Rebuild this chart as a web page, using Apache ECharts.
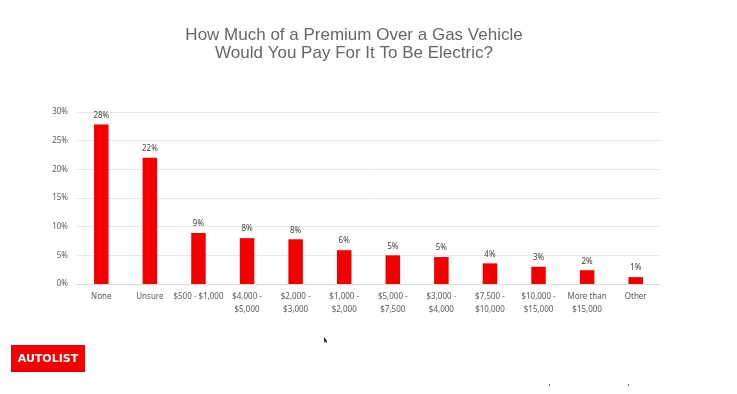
<!DOCTYPE html>
<html><head><meta charset="utf-8">
<script src="https://cdn.jsdelivr.net/npm/echarts@6/dist/echarts.min.js"></script>
<style>html,body{margin:0;padding:0;background:#fff}#c{width:737px;height:394px}</style>
</head><body><div id="c"></div>
<script>
const categories = ['None','Unsure','$500 - $1,000','$4,000 -\n$5,000','$2,000 -\n$3,000','$1,000 -\n$2,000','$5,000 -\n$7,500','$3,000 -\n$4,000','$7,500 -\n$10,000','$10,000 -\n$15,000','More than\n$15,000','Other'];
const values = [27.8, 22.0, 8.9, 8.0, 7.8, 5.9, 5.0, 4.7, 3.6, 3.0, 2.4, 1.2];
const valueLabels = ['28%','22%','9%','8%','8%','6%','5%','5%','4%','3%','2%','1%'];
const yTicks = [0, 5, 10, 15, 20, 25, 30];

const chart = echarts.init(document.getElementById('c'), null, {renderer:'canvas'});
chart.setOption({
  animation: false,
  backgroundColor: '#fff',
  title: {
    text: 'How Much of a Premium Over a Gas Vehicle\nWould You Pay For It To Be Electric?',
    left: 349, top: 21, textAlign: 'center',
    textStyle: {fontFamily: 'Liberation Sans, Arial, sans-serif', fontSize: 17, fontWeight: 'normal', color: '#666666', lineHeight: 18}
  },
  grid: {left: 77, right: 77, top: 112, bottom: 110, containLabel: false},
  xAxis: {
    type: 'category', data: categories,
    axisLine: {lineStyle: {color: '#d9d9d9'}},
    axisTick: {show: false},
    axisLabel: {color: '#595959', fontSize: 8, fontFamily: 'Noto Sans, sans-serif', interval: 0, lineHeight: 13, margin: 6}
  },
  yAxis: {
    type: 'value', min: yTicks[0], max: yTicks[yTicks.length - 1], interval: 5,
    axisLine: {show: false}, axisTick: {show: false},
    splitLine: {lineStyle: {color: '#e6e6e6'}},
    axisLabel: {color: '#595959', fontSize: 8, fontFamily: 'Noto Sans, sans-serif', margin: 9, formatter: v => v + '%'}
  },
  series: [{
    type: 'bar', data: values, barWidth: 14.5,
    itemStyle: {color: '#f20000'},
    label: {show: true, position: 'top', distance: 5, color: '#404040', fontSize: 8, fontFamily: 'Noto Sans, sans-serif',
      formatter: p => valueLabels[p.dataIndex]}
  }],
  graphic: [
    {type: 'rect', shape: {x: 11, y: 345, width: 74, height: 27}, style: {fill: '#f20000'}},
    {type: 'text', x: 48, y: 359, style: {text: 'AUTOLIST', fill: '#fff', font: 'bold 11px "DejaVu Sans", sans-serif', textAlign: 'center', textVerticalAlign: 'middle'}},
    {type: 'polygon', shape: {points: [[324, 337], [324, 343], [325.5, 341.5], [327, 343], [327, 341], [326.5, 340]]}, style: {fill: '#333'}},
    {type: 'rect', shape: {x: 549, y: 384, width: 1, height: 2}, style: {fill: '#666'}},
    {type: 'rect', shape: {x: 628, y: 384, width: 1, height: 2}, style: {fill: '#666'}}
  ]
});
</script></body></html>
